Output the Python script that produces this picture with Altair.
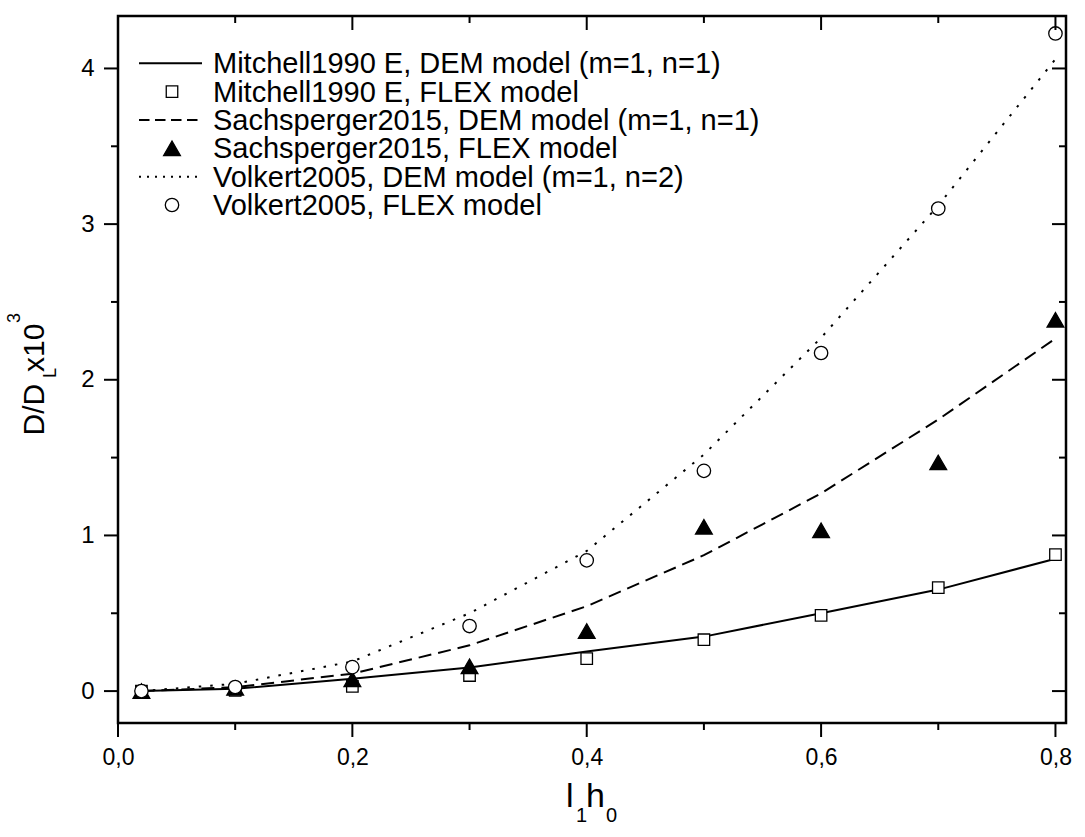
import altair as alt
import pandas as pd

# ---- data ---------------------------------------------------------------
l1h0 = [0.02, 0.1, 0.2, 0.3, 0.4, 0.5, 0.6, 0.7, 0.8]

mitchell_dem = [0.0, 0.015, 0.08, 0.152, 0.255, 0.35, 0.50, 0.652, 0.85]
mitchell_flex = [0.0, 0.005, 0.03, 0.10, 0.208, 0.33, 0.487, 0.665, 0.877]
sachsperger_dem = [0.0, 0.025, 0.112, 0.294, 0.545, 0.873, 1.27, 1.745, 2.265]
sachsperger_flex = [0.0, 0.02, 0.075, 0.159, 0.386, 1.055, 1.033, 1.469, 2.385]
volkert_dem = [0.0, 0.047, 0.19, 0.50, 0.90, 1.52, 2.27, 3.12, 4.06]
volkert_flex = [0.0, 0.026, 0.154, 0.418, 0.84, 1.415, 2.172, 3.10, 4.225]

legend_labels = [
    "Mitchell1990 E, DEM model (m=1, n=1)",
    "Mitchell1990 E, FLEX model",
    "Sachsperger2015, DEM model (m=1, n=1)",
    "Sachsperger2015, FLEX model",
    "Volkert2005, DEM model (m=1, n=2)",
    "Volkert2005, FLEX model",
]

x_major = [0.0, 0.2, 0.4, 0.6, 0.8]
x_minor = [0.1, 0.3, 0.5, 0.7]
y_major = [0, 1, 2, 3, 4]
y_minor = [0.5, 1.5, 2.5, 3.5]

# ---- layout -------------------------------------------------------------
L, T = 118, 16          # plot-area origin inside the page
W, H = 948, 707         # plot-area size
FONT = "Liberation Sans"
X_DOMAIN = [0, 0.809]
Y_DOMAIN = [-0.205, 4.337]

xs = alt.Scale(domain=X_DOMAIN, nice=False, zero=False)
ys = alt.Scale(domain=Y_DOMAIN, nice=False, zero=False)

# one shared axis definition per direction: labels only, ticks drawn as rules
X_AXIS = alt.Axis(
    values=x_major, ticks=False, domain=False, grid=False, title=None,
    labelExpr="replace(format(datum.value, '.1f'), '.', ',')",
    labelFont=FONT, labelFontSize=23, labelColor="black",
    labelPadding=23, labelFlush=False, labelOverlap=False,
)
Y_AXIS = alt.Axis(
    values=y_major, ticks=False, domain=False, grid=False, title=None,
    format="d", labelFont=FONT, labelFontSize=24, labelColor="black",
    labelPadding=24, labelOverlap=False,
)


def X(field):
    return alt.X(f"{field}:Q", scale=xs, axis=X_AXIS)


def Y(field):
    return alt.Y(f"{field}:Q", scale=ys, axis=Y_AXIS)


def series(values):
    return pd.DataFrame({"x": l1h0, "y": values})


def curve(values, dash=None):
    kw = dict(color="black", strokeWidth=2)
    if dash:
        kw["strokeDash"] = dash
    return alt.Chart(series(values)).mark_line(**kw).encode(x=X("x"), y=Y("y"))


def markers(values, shape, size, fill):
    return alt.Chart(series(values)).mark_point(
        shape=shape, size=size, filled=True, fill=fill,
        stroke="black", strokeWidth=1.3, opacity=1,
    ).encode(x=X("x"), y=Y("y"))


def xticks(vals, y0, y1):
    return alt.Chart(pd.DataFrame({"v": vals})).mark_rule(
        color="black", strokeWidth=2
    ).encode(x=X("v"), y=alt.value(y0), y2=alt.value(y1))


def yticks(vals, x0, x1):
    return alt.Chart(pd.DataFrame({"v": vals})).mark_rule(
        color="black", strokeWidth=2
    ).encode(y=Y("v"), x=alt.value(x0), x2=alt.value(x1))


ticks = [
    xticks(x_major, H, H + 14), xticks(x_minor, H, H + 7),
    xticks(x_major, 0, 14), xticks(x_minor, 0, 7),
    yticks(y_major, -14, 0), yticks(y_minor, -7, 0),
    yticks(y_major, W - 14, W), yticks(y_minor, W - 7, W),
]

one = pd.DataFrame({"a": [0]})


def text(s, px, py, size, angle=0):
    return alt.Chart(one).mark_text(
        text=s, font=FONT, fontSize=size, color="black", align="left",
        baseline="alphabetic", angle=angle,
    ).encode(x=alt.value(px - L), y=alt.value(py - T))


# ---- legend -------------------------------------------------------------
rows = [73.3, 101.7, 130.0, 158.3, 186.7, 215.0]     # text baselines
mids = [r - 10 for r in rows]
legend = []
line_styles = [None, None, [10.5, 5.5], None, [2, 6], None]
for i, lab in enumerate(legend_labels):
    legend.append(text(lab, 213, rows[i], 29))
for i in (0, 2, 4):
    kw = dict(color="black", strokeWidth=2)
    if line_styles[i]:
        kw["strokeDash"] = line_styles[i]
    legend.append(
        alt.Chart(one).mark_rule(**kw).encode(
            x=alt.value(139 - L), x2=alt.value(202 - L), y=alt.value(mids[i] - T)
        )
    )
for i, (shape, size, fill) in {
    1: ("square", 132, "white"),
    3: ("triangle-up", 280, "black"),
    5: ("circle", 180, "white"),
}.items():
    legend.append(
        alt.Chart(one).mark_point(
            shape=shape, size=size, filled=True, fill=fill,
            stroke="black", strokeWidth=1.3, opacity=1,
        ).encode(x=alt.value(172 - L), y=alt.value(mids[i] - T))
    )

# ---- axis titles --------------------------------------------------------
titles = [
    text("l", 566, 807, 34), text("1", 576, 822, 20),
    text("h", 586, 807, 34), text("0", 606, 822, 20),
    text("D/D", 43.5, 435.5, 30, 270), text("L", 56, 378, 18, 270),
    text("x10", 43.5, 372, 30, 270), text("3", 20, 323, 18, 270),
]

layers = []
layers += [curve(mitchell_dem), markers(mitchell_flex, "square", 132, "white")]
layers += [curve(sachsperger_dem, [13, 7]), markers(sachsperger_flex, "triangle-up", 280, "black")]
layers += [curve(volkert_dem, [2.5, 9]), markers(volkert_flex, "circle", 180, "white")]
layers += ticks + legend + titles

chart = alt.layer(*layers).properties(
    width=W, height=H,
    autosize=alt.AutoSizeParams(type="none"),
    padding={"left": L, "top": T, "right": 1085 - L - W, "bottom": 837 - T - H},
).configure_view(stroke="black", strokeWidth=2.5)

chart.save("out.html", embed_options={"renderer": "svg", "actions": False})
